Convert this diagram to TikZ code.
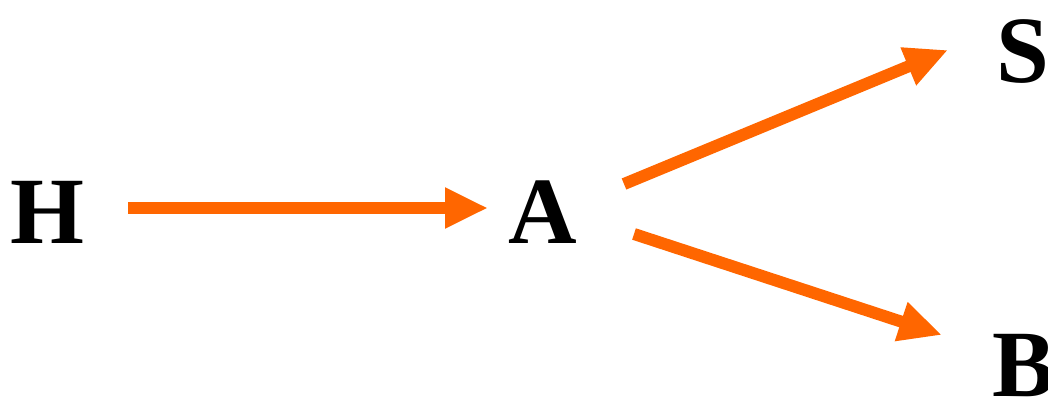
\documentclass[tikz,border=0pt]{standalone}
\usepackage{fontspec}
\setmainfont{Liberation Serif}
\usetikzlibrary{arrows.meta}
\definecolor{arrorange}{HTML}{FF6600}
\tikzset{
  lbl/.style={inner sep=0pt, outer sep=0pt, anchor=base west, font=\fontsize{95}{95}\selectfont\bfseries},
  arr/.style={draw=arrorange, line width=12pt, -{Triangle[length=43pt,width=38pt]}, fill=arrorange}
}
\begin{document}
\begin{tikzpicture}[x=1pt,y=-1pt]
\useasboundingbox (0,0) rectangle (1048,396);
\node[lbl] (H) at (10,243) {H};
\node[lbl] (A) at (508,243) {A};
\node[lbl] (S) at (996,82) {S};
\node[lbl] (B) at (992,396) {B};
\coordinate (hout) at (128,208);
\coordinate (ain) at (488,208);
\coordinate (aout1) at (624,184);
\coordinate (sin) at (948,50);
\coordinate (aout2) at (634,234);
\coordinate (bin) at (942,335);
\draw[arr] (hout) -- (ain);
\draw[arr] (aout1) -- (sin);
\draw[arr] (aout2) -- (bin);
\end{tikzpicture}
\end{document}
